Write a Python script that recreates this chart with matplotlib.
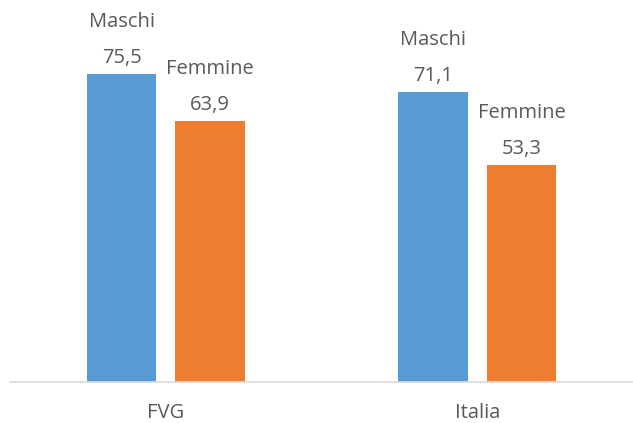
import matplotlib.pyplot as plt
import numpy as np

regions = ["FVG", "Italia"]
series = ["Maschi", "Femmine"]
maschi = [75.5, 71.1]
femmine = [63.9, 53.3]
colors = ["#5B9BD5", "#ED7D31"]
text_color = "#595959"

plt.rcParams["font.family"] = ["Open Sans", "DejaVu Sans"]

fig = plt.figure(figsize=(6.33, 4.23), dpi=100)
ax = fig.add_axes([10 / 633, 41 / 423, 623 / 633, 1 - 56 / 423])

x = np.arange(len(regions))
width = 0.222
offset = 0.142
fs = 14.5

for vals, name, color, dx in [(maschi, series[0], colors[0], -offset),
                              (femmine, series[1], colors[1], offset)]:
    bars = ax.bar(x + dx, vals, width, color=color)
    for bar, v in zip(bars, vals):
        cx = bar.get_x() + bar.get_width() / 2
        ax.annotate(f"{v:.1f}".replace(".", ","), (cx, v), xytext=(0, 16),
                    textcoords="offset pixels", ha="center", va="center",
                    fontsize=fs, color=text_color)
        ax.annotate(name, (cx, v), xytext=(0, 52),
                    textcoords="offset pixels", ha="center", va="center",
                    fontsize=fs, color=text_color)

ax.set_xlim(-0.5, 1.5)
ax.set_ylim(0, 90)
ax.set_xticks(x, regions, fontsize=fs, color=text_color)
ax.tick_params(axis="x", length=0, pad=15)
ax.set_yticks([])
for side in ["top", "right", "left"]:
    ax.spines[side].set_visible(False)
ax.spines["bottom"].set_color("#D9D9D9")
ax.spines["bottom"].set_linewidth(1.2)

fig.savefig("out.png", dpi=100)
